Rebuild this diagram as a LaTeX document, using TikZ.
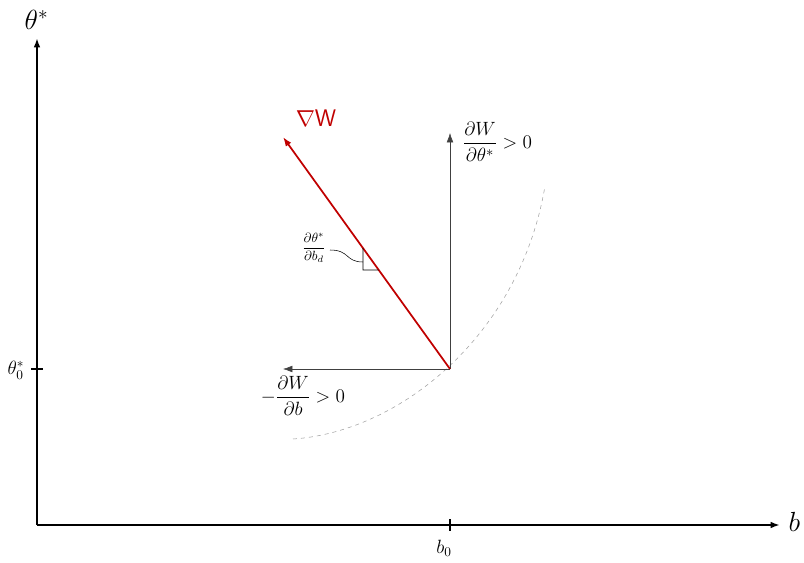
\documentclass[tikz,border=0pt]{standalone}
\usepackage{amsmath}
\usetikzlibrary{calc, intersections, arrows.meta}

\begin{document}
\begin{tikzpicture}[x=0.75pt, y=-0.75pt, >={Latex[length=7pt,width=5pt]}]
    % Define colours
    \definecolor{gradColour}{HTML}{C00000}
    \definecolor{arrowColour}{HTML}{404040}
    \definecolor{curveColour}{HTML}{A0A0A0}

    % Fix the canvas
    \useasboundingbox (0,0) rectangle (804,563);

    % Define coordinates
    \coordinate (O) at (37,525);
    \coordinate (Ytop) at (37,38);
    \coordinate (Xend) at (780,525);
    \coordinate (P) at (450,369);
    \coordinate (Up) at (450,133);
    \coordinate (Left) at (283,369);
    \coordinate (Grad) at (283,137);

    % Draw axes
    \draw[line width=1.5pt,->] (O) -- (Ytop);
    \draw[line width=1.5pt,->] (O) -- (Xend);
    \node[anchor=west, font=\fontsize{20}{20}\selectfont] (ylab) at (20,20) {$\theta^*$};
    \node[anchor=west, font=\fontsize{20}{20}\selectfont] (xlab) at (784,522) {$b$};

    % Ticks
    \draw[thick] (450,519) -- (450,531);
    \node[font=\fontsize{14}{14}\selectfont] (b0) at (444,548) {$b_0$};
    \draw[thick] (31,369) -- (43,369);
    \node[font=\fontsize{14}{14}\selectfont] (t0) at (16,370) {$\theta_0^*$};

    % Draw the level curve
    \draw[curveColour, dashed] (293,439) .. controls (400,432) and (520,335) .. (545,186);

    % Draw the partial derivative arrows
    \draw[arrowColour, ->] (P) -- (Up);
    \draw[arrowColour, ->] (P) -- (Left);
    \node[anchor=west, font=\fontsize{15}{15}\selectfont] (dtheta) at (458,142) {$\dfrac{\partial W}{\partial \theta^*} > 0$};
    \node[font=\fontsize{15}{15}\selectfont] (db) at (303,396) {$-\dfrac{\partial W}{\partial b} > 0$};

    % Draw the gradient
    \draw[gradColour, line width=1.3pt, ->, name path=grad] (P) -- (Grad);
    \node[gradColour, font=\fontsize{18}{18}\selectfont] (gradlab) at (316,118) {$\nabla$\textsf{W}};

    % Slope triangle
    \path[name path=vline] (363,200) -- (363,270);
    \path[name path=hline] (363,270) -- (420,270);
    \path[name intersections={of=grad and vline, by=T1}];
    \path[name intersections={of=grad and hline, by=T2}];
    \coordinate (T0) at (363,270);
    \draw[thin] (T1) -- (T0) -- (T2);

    % Label the slope
    \node[font=\fontsize{10}{10}\selectfont] (slope) at (314,248) {$\dfrac{\partial \theta^*}{\partial b_d}$};
    \draw[thin] (330,250) .. controls (350,250) and (345,262) .. (363,262);

\end{tikzpicture}
\end{document}
